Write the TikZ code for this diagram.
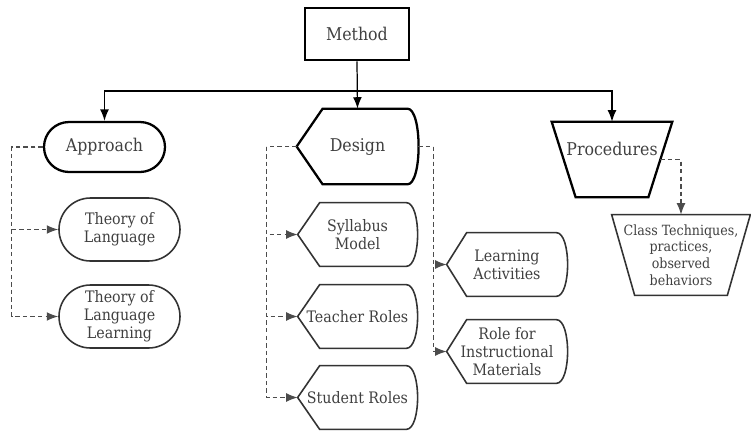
\documentclass[tikz,border=0pt]{standalone}
\usepackage{fontspec}
\setmainfont{DejaVu Serif Condensed}
\usetikzlibrary{arrows.meta}
\usetikzlibrary{shapes.misc}
\usetikzlibrary{calc}

\newdimen\px \px=0.02cm

% pointed on the left, bulging on the right
\newcommand{\dispoutline}[3]{%
  \draw[#3] (#1.west) -- ($(#1.north west)+(#2,0)$) -- ($(#1.north east)+(-11,0)$)
    .. controls ($(#1.north east)+(4,0)$) and ($(#1.south east)+(4,0)$) .. ($(#1.south east)+(-11,0)$)
    -- ($(#1.south west)+(#2,0)$) -- cycle;}
% trapezium, wide side on top
\newcommand{\trapoutline}[3]{%
  \draw[#3] (#1.north west) -- (#1.north east) -- ($(#1.south east)+(-#2,0)$)
    -- ($(#1.south west)+(#2,0)$) -- cycle;}

\begin{document}
\begin{tikzpicture}[x=0.02cm,y=-0.02cm,
  txt/.style={text=black!75, align=center, inner sep=0pt},
  big/.style={txt, font=\fontsize{10}{12}\selectfont},
  small/.style={txt, font=\fontsize{9}{10.3}\selectfont},
  sub/.style={small, minimum width=120\px, minimum height=63\px},
  link/.style={line width=0.7pt, -{Latex[length=6.5pt,width=5pt]}},
  dlink/.style={link, draw=black!70, dash pattern=on 2.5pt off 1.8pt}]

\useasboundingbox (0,0) rectangle (751,430);

% top level
\node[big, draw, line width=1.5pt, minimum width=104\px, minimum height=52\px] (method) at (357,34) {Method};
\node[big, draw, rounded rectangle, line width=1.3pt, minimum width=121\px, minimum height=50\px] (approach) at (104.5,147) {Approach};
\node[big, minimum width=121\px, minimum height=75\px] (design) at (357.5,146.5) {Design};
\node[big, minimum width=120\px, minimum height=75\px, text depth=22\px] (proc) at (612,159.5) {Procedures};
\dispoutline{design}{26}{line width=1.3pt}
\trapoutline{proc}{24}{line width=1.3pt}

% approach
\node[sub, draw=black!80, rounded rectangle, line width=0.9pt, minimum width=121\px] (tol) at (119.5,229.5) {Theory of\\Language};
\node[sub, draw=black!80, rounded rectangle, line width=0.9pt, minimum width=121\px] (toll) at (119.5,316.5) {Theory of\\Language\\Learning};

% design
\node[sub, minimum width=119\px] (syllabus) at (357.5,234.5) {Syllabus\\Model};
\node[sub, minimum width=119\px] (teacher) at (357.5,316.5) {Teacher Roles};
\node[sub, minimum width=119\px] (student) at (357.5,397.5) {Student Roles};
\node[sub] (learning) at (507,264.5) {Learning\\Activities};
\node[sub] (role) at (507,351.5) {Role for\\Instructional\\Materials};
\foreach \n/\p in {syllabus/22, teacher/22, student/22, learning/20, role/20}
  \dispoutline{\n}{\p}{draw=black!80, line width=0.9pt};

% procedures
\node[txt, font=\fontsize{8}{9.4}\selectfont, minimum width=138\px, minimum height=80\px] (class) at (681,255) {Class Techniques,\\practices,\\observed\\behaviors};
\trapoutline{class}{23}{draw=black!80, line width=0.9pt}

% solid links
\coordinate (split) at (357,91);
\draw[link] (method.south) -- (design.north);
\draw[link] (split) -| (approach.north);
\draw[link] (split) -| (proc.north);

% dashed links
\draw[dlink] (approach.west) -- ++(-31,0) |- (tol.west);
\draw[dlink] (approach.west) -- ++(-31,0) |- (toll.west);
\draw[dlink] (design.west) -- ++(-30,0) |- (syllabus.west);
\draw[dlink] (design.west) -- ++(-30,0) |- (teacher.west);
\draw[dlink] (design.west) -- ++(-30,0) |- (student.west);
\draw[dlink] (design.east) -- ++(15,0) |- (learning.west);
\draw[dlink] (design.east) -- ++(15,0) |- (role.west);
\draw[dlink] ($(proc.east)+(-12,0)$) -| (class.north);
\end{tikzpicture}
\end{document}
